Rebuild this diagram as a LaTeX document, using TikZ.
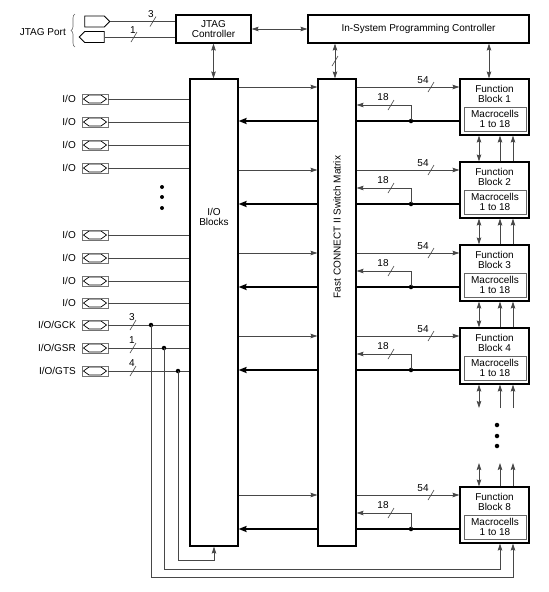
\documentclass[tikz,border=0pt]{standalone}
\usepackage{fontspec}
\setmainfont{Liberation Sans}
\usetikzlibrary{arrows.meta,shapes.symbols,decorations.pathreplacing}
\begin{document}
\tikzset{
 box/.style={draw=black, line width=1.1pt, fill=white, inner sep=0pt, align=center},
 ln/.style={draw=black!72, line width=0.7pt},
 bus/.style={draw=black, line width=1.8pt},
 tip/.style={-{Stealth[length=7pt,width=4.5pt,inset=1pt]}},
 dtip/.style={{Stealth[length=7pt,width=4.5pt,inset=1pt]}-{Stealth[length=7pt,width=4.5pt,inset=1pt]}},
 btip/.style={-{Stealth[length=8pt,width=6pt,inset=1pt]}},
 jdot/.style={circle, fill=black, inner sep=0pt, minimum size=4.5pt},
 lbl/.style={inner sep=0pt},
 mcbox/.style={draw=black!60, line width=0.7pt, minimum width=62pt, minimum height=24pt, inner sep=0pt, align=center},
 jpin/.style={signal, draw=black, line width=0.8pt, minimum width=25pt, minimum height=11pt, inner sep=0pt},
 pinpad/.style={draw=black!55, line width=0.8pt, minimum width=26pt, minimum height=10pt, inner sep=0pt,
   path picture={\draw[black, line width=0.7pt]
     ([xshift=1.5pt]path picture bounding box.west) -- ([xshift=7pt,yshift=4pt]path picture bounding box.west)
     -- ([xshift=-7pt,yshift=4pt]path picture bounding box.east) -- ([xshift=-1.5pt]path picture bounding box.east)
     -- ([xshift=-7pt,yshift=-4pt]path picture bounding box.east) -- ([xshift=7pt,yshift=-4pt]path picture bounding box.west) -- cycle;}},
 sl/.pic={\draw[black!72, line width=0.6pt] (-3,5) -- (3,-5);}
}
\begin{tikzpicture}[x=1pt,y=-1pt,font=\fontsize{10}{10.5}\selectfont]
\useasboundingbox (0,0) rectangle (549,592);

% main blocks
\node[box, minimum width=75pt, minimum height=28pt] (jtag) at (213.5,29) {JTAG\\Controller};
\node[box, minimum width=221pt, minimum height=28pt] (isp) at (418.5,29) {In-System Programming Controller};
\node[box, minimum width=48pt, minimum height=467pt] (io) at (214,312.5) {};
\node[align=center, inner sep=0pt] (iot) at (214,217) {I/O\\Blocks};
\node[box, minimum width=38pt, minimum height=467pt] (sm) at (337,312.5) {};
\node[rotate=90, inner sep=0pt] (smt) at (337,227) {Fast CONNECT II Switch Matrix};

% JTAG port
\node[jpin, signal to=east] (tdi) at (94.5,21.5) {};
\node[jpin, signal to=west] (tdo) at (94.5,37) {};
\draw[ln] (tdi.east) -- (jtag.west |- tdi.east);
\draw[ln] (tdo.east) -- (jtag.west |- tdo.east);
\node[lbl] (n3j) at (151,14) {3};
\pic at (153,21.5) {sl};
\node[lbl] (n1j) at (133,30) {1};
\pic at (134,37) {sl};
\draw[decorate, decoration={brace, amplitude=4pt}, black!60, line width=0.6pt] (75,47) -- (75,14);
\node[lbl, anchor=east] (jport) at (66,32) {JTAG Port};

% controller connections
\draw[ln, dtip] (jtag.east) -- (isp.west);
\draw[ln, dtip] (jtag.south) -- (io.north -| jtag.south);
\draw[ln, dtip] ([xshift=-2pt]sm.north |- isp.south) -- ([xshift=-2pt]sm.north);
\pic at (335,61) {sl};

% I/O pins
\foreach \n/\y/\t in {a/99/{I/O},b/122/{I/O},c/145/{I/O},d/168/{I/O},e/235/{I/O},f/258/{I/O},g/281/{I/O},h/303/{I/O},gck/325/{I/O/GCK},gsr/348/{I/O/GSR},gts/371/{I/O/GTS}} {
  \node[pinpad] (pin\n) at (95,\y) {};
  \node[lbl, anchor=east] (lab\n) at (76,\y) {\t};
  \draw[ln] (pin\n.east) -- (io.west |- pin\n.east);
}
\node[jdot, minimum size=4pt] (ld1) at (162,187) {};
\node[jdot, minimum size=4pt] (ld2) at (162,197) {};
\node[jdot, minimum size=4pt] (ld3) at (162,208) {};

\node[lbl] (n3g) at (132,317) {3};
\pic at (133,325) {sl};
\node[lbl] (n1g) at (132,340) {1};
\pic at (133,348) {sl};
\node[lbl] (n4g) at (132,363) {4};
\pic at (133,371) {sl};
\node[jdot] (gckd) at (151,325) {};
\node[jdot] (gsrd) at (164,348) {};
\node[jdot] (gtsd) at (178,371) {};

% function blocks
\foreach \i/\T in {1/79,2/162,3/245,4/328,8/487} {
  \pgfmathsetmacro\ya{\T+8}
  \pgfmathsetmacro\yb{\T+26}
  \pgfmathsetmacro\yc{\T+42}
  \pgfmathsetmacro\yl{\T+1}
  \pgfmathsetmacro\ym{\T+18}
  \node[box, minimum width=69pt, minimum height=56pt] (fb\i) at (494.5,\T+28) {};
  \node[align=center, inner sep=0pt] (fbt\i) at (494.5,\T+15) {Function\\Block \i};
  \node[mcbox] (mc\i) at (495,\T+40) {Macrocells\\1 to 18};
  \draw[ln, tip] (io.east |- 0,\ya) -- (sm.west |- 0,\ya);
  \draw[ln, tip] (sm.east |- 0,\ya) -- (fb\i.west |- 0,\ya);
  \node[lbl] (n54\i) at (423,\yl) {54};
  \pic at (431,\ya) {sl};
  \node[jdot] (d\i) at (411,\yc) {};
  \draw[ln, tip] (d\i.center) |- (sm.east |- 0,\yb);
  \node[lbl] (n18\i) at (383,\ym) {18};
  \pic at (391,\yb) {sl};
  \draw[bus] (fb\i.west |- 0,\yc) -- (sm.east |- 0,\yc);
  \draw[bus, btip] (sm.west |- 0,\yc) -- (io.east |- 0,\yc);
}
\draw[ln, dtip] ([xshift=-5.5pt]fb1.north |- isp.south) -- ([xshift=-5.5pt]fb1.north);

\foreach \a/\b in {1/2,2/3,3/4} {
  \draw[ln, dtip] ([xshift=-15.5pt]fb\a.south) -- ([xshift=-15.5pt]fb\b.north);
  \draw[ln, tip] ([xshift=5.5pt]fb\b.north) -- ([xshift=5.5pt]fb\a.south);
  \draw[ln, tip] ([xshift=18.5pt]fb\b.north) -- ([xshift=18.5pt]fb\a.south);
}
\coordinate (c4a) at (479,408);
\coordinate (c4b) at (500,408);
\coordinate (c4c) at (513,408);
\coordinate (c8a) at (479,463);
\coordinate (c8b) at (500,463);
\coordinate (c8c) at (513,463);
\draw[ln, dtip] ([xshift=-15.5pt]fb4.south) -- (c4a);
\draw[ln, tip] (c4b) -- ([xshift=5.5pt]fb4.south);
\draw[ln, tip] (c4c) -- ([xshift=18.5pt]fb4.south);
\draw[ln, dtip] (c8a) -- ([xshift=-15.5pt]fb8.north);
\draw[ln, tip] ([xshift=5.5pt]fb8.north) -- (c8b);
\draw[ln, tip] ([xshift=18.5pt]fb8.north) -- (c8c);
\node[jdot] (rd1) at (497,425) {};
\node[jdot] (rd2) at (497,436) {};
\node[jdot] (rd3) at (497,446) {};

% global lines
\draw[ln, tip] (gckd.center) |- ([xshift=18.5pt]fb8.south |- 0,577) -- ([xshift=18.5pt]fb8.south);
\draw[ln, tip] (gsrd.center) |- ([xshift=5.5pt]fb8.south |- 0,569) -- ([xshift=5.5pt]fb8.south);
\draw[ln, tip] (gtsd.center) |- (io.south |- 0,560) -- (io.south);
\end{tikzpicture}
\end{document}
